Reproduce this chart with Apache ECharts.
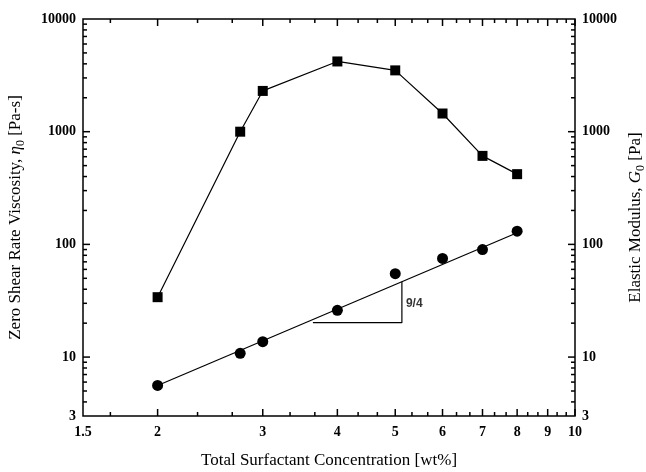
<!DOCTYPE html>
<html><head><meta charset="utf-8">
<script src="https://cdn.jsdelivr.net/npm/echarts@6/dist/echarts.min.js"></script>
<style>html,body{margin:0;padding:0;background:#fff}#c{width:646px;height:472px}</style>
</head><body><div id="c"></div>
<script>
// ---- data ----
const concentration = [2, 2.75, 3, 4, 5, 6, 7, 8];
const viscosity = [34, 1000, 2300, 4200, 3500, 1450, 610, 420];
const modulus = [5.6, 10.8, 13.7, 26, 55, 75, 90, 131];
const fitX = [2, 8];
const fitY = [5.6, 127];
const slopeX = [3.64, 5.13, 5.13];
const slopeY = [20.2, 20.2, 46.7];
const slopeLabel = '9/4';
const slopeLabelAt = [5.38, 30];
const xTickLabels = [1.5, 2, 3, 4, 5, 6, 7, 8, 9, 10];
const yTickLabels = [3, 10, 100, 1000, 10000];
const xMajorTicks = [2, 3, 4, 5, 6, 7, 8, 9, 10];
const xMinorTicks = [1.667, 2.333, 2.667, 3.333, 3.667, 4.333, 4.667, 5.333, 5.667,
  6.333, 6.667, 7.333, 7.667, 8.333, 8.667, 9.333, 9.667];
const yMajorTicks = [10, 100, 1000];
const yMinorTicks = [4, 5, 6, 7, 8, 9, 20, 30, 40, 50, 60, 70, 80, 90,
  200, 300, 400, 500, 600, 700, 800, 900, 2000, 3000, 4000, 5000, 6000, 7000, 8000, 9000];

const X_MIN = 1.5, X_MAX = 10, Y_MIN = 3, Y_MAX = 10000;
const LABEL_FONT = 'bold 14px "Liberation Serif"';
const chart = echarts.init(document.getElementById('c'));

function xTicks(len) {
  return function (params, api) {
    const cs = params.coordSys;
    const x = api.coord([api.value(0), Y_MIN])[0];
    const b = cs.y + cs.height, t = cs.y;
    return {type: 'group', children: [
      {type: 'line', shape: {x1: x, y1: b, x2: x, y2: b - len}, style: {stroke: '#000', lineWidth: 1.5}},
      {type: 'line', shape: {x1: x, y1: t, x2: x, y2: t + len}, style: {stroke: '#000', lineWidth: 1.5}}
    ]};
  };
}
function yTicks(len) {
  return function (params, api) {
    const cs = params.coordSys;
    const y = api.coord([X_MIN, api.value(1)])[1];
    const l = cs.x, r = cs.x + cs.width;
    return {type: 'group', children: [
      {type: 'line', shape: {x1: l, y1: y, x2: l + len, y2: y}, style: {stroke: '#000', lineWidth: 1.5}},
      {type: 'line', shape: {x1: r, y1: y, x2: r - len, y2: y}, style: {stroke: '#000', lineWidth: 1.5}}
    ]};
  };
}
function xLabels(params, api) {
  const cs = params.coordSys;
  const v = api.value(0);
  const x = api.coord([v, Y_MIN])[0];
  return {type: 'text', style: {text: String(v), x: x, y: cs.y + cs.height + 9,
    align: 'center', verticalAlign: 'top', font: LABEL_FONT, fill: '#000'}};
}
function yLabels(params, api) {
  const cs = params.coordSys;
  const v = api.value(1);
  const y = api.coord([X_MIN, v])[1];
  return {type: 'group', children: [
    {type: 'text', style: {text: String(v), x: cs.x - 7, y: y, align: 'right', verticalAlign: 'middle', font: LABEL_FONT, fill: '#000'}},
    {type: 'text', style: {text: String(v), x: cs.x + cs.width + 7, y: y, align: 'left', verticalAlign: 'middle', font: LABEL_FONT, fill: '#000'}}
  ]};
}

const nameStyle = {
  fontFamily: 'Liberation Serif', fontSize: 17, color: '#000', lineHeight: 22,
  rich: {
    i: {fontFamily: 'Liberation Serif', fontStyle: 'italic', fontSize: 17, color: '#000', lineHeight: 22},
    s: {fontFamily: 'Liberation Serif', fontSize: 12, color: '#000', lineHeight: 12, verticalAlign: 'bottom'}
  }
};
const hiddenAxis = {axisLine: {show: false}, axisTick: {show: false}, axisLabel: {show: false}, splitLine: {show: false}};

chart.setOption({
  animation: false,
  backgroundColor: '#fff',
  grid: {left: 83, right: 71, top: 19, bottom: 56, containLabel: false, outerBoundsMode: 'none',
    show: true, borderColor: '#000', borderWidth: 1.5, backgroundColor: 'transparent'},
  xAxis: [
    Object.assign({type: 'log', logBase: 10, min: X_MIN, max: X_MAX, position: 'bottom',
      name: 'Total Surfactant Concentration [wt%]', nameLocation: 'middle', nameGap: 36,
      nameTextStyle: {fontFamily: 'Liberation Serif', fontSize: 17, color: '#000'}}, hiddenAxis),
    Object.assign({type: 'log', logBase: 10, min: X_MIN, max: X_MAX, position: 'top'}, hiddenAxis)
  ],
  yAxis: [
    Object.assign({type: 'log', logBase: 10, min: Y_MIN, max: Y_MAX, position: 'left',
      name: 'Zero Shear Rate Viscosity, {i|η}{s|0} [Pa-s]', nameLocation: 'middle', nameGap: 56,
      nameTextStyle: nameStyle}, hiddenAxis),
    Object.assign({type: 'log', logBase: 10, min: Y_MIN, max: Y_MAX, position: 'right',
      name: 'Elastic Modulus, {i|G}{s|0} [Pa]', nameLocation: 'middle', nameGap: 50,
      nameTextStyle: nameStyle}, hiddenAxis)
  ],
  series: [
    {type: 'line', data: concentration.map((c, i) => [c, viscosity[i]]), symbol: 'rect', symbolSize: 10,
      itemStyle: {color: '#000', opacity: 1}, lineStyle: {color: '#000', width: 1.2}, z: 5},
    {type: 'line', data: fitX.map((c, i) => [c, fitY[i]]), symbol: 'none',
      lineStyle: {color: '#000', width: 1.2}, z: 4},
    {type: 'scatter', data: concentration.map((c, i) => [c, modulus[i]]), symbol: 'circle', symbolSize: 11,
      itemStyle: {color: '#000', opacity: 1}, z: 5},
    {type: 'line', data: slopeX.map((c, i) => [c, slopeY[i]]), symbol: 'none',
      lineStyle: {color: '#000', width: 1.2}, z: 4},
    {type: 'scatter', data: [slopeLabelAt], symbolSize: 0,
      label: {show: true, position: 'inside', formatter: slopeLabel, fontFamily: 'Liberation Sans', fontWeight: 'bold', fontSize: 12, color: '#000'}},
    {type: 'custom', silent: true, data: xMajorTicks.map(v => [v, Y_MIN]), renderItem: xTicks(7), z: 10},
    {type: 'custom', silent: true, data: xMinorTicks.map(v => [v, Y_MIN]), renderItem: xTicks(4), z: 10},
    {type: 'custom', silent: true, data: yMajorTicks.map(v => [X_MIN, v]), renderItem: yTicks(7), z: 10},
    {type: 'custom', silent: true, data: yMinorTicks.map(v => [X_MIN, v]), renderItem: yTicks(4), z: 10},
    {type: 'custom', silent: true, data: xTickLabels.map(v => [v, Y_MIN]), renderItem: xLabels, z: 10},
    {type: 'custom', silent: true, data: yTickLabels.map(v => [X_MIN, v]), renderItem: yLabels, z: 10}
  ]
});
</script></body></html>
